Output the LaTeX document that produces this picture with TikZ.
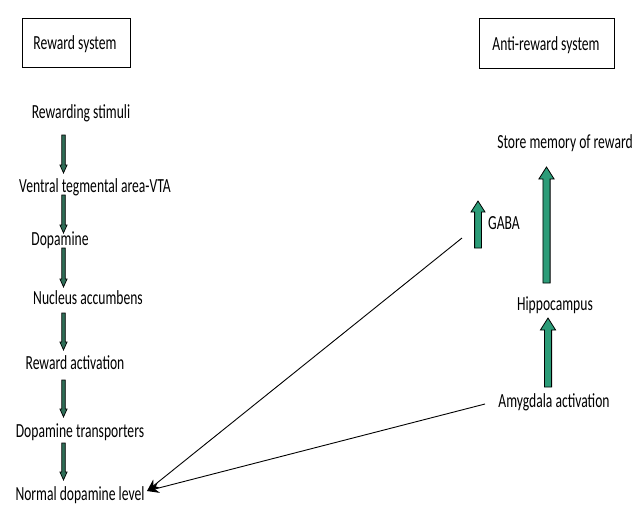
\documentclass[tikz,border=0pt]{standalone}
\usepackage{fontspec}
\setmainfont{Carlito}[FakeStretch=0.68]
\usetikzlibrary{arrows.meta}
\definecolor{dgreen}{HTML}{2F6E57}
\definecolor{tgreen}{HTML}{2C9C78}
\tikzset{
  lbl/.style={font=\fontsize{20}{24}\selectfont, inner sep=0pt, anchor=center},
  thinblk/.style={fill=dgreen, draw=black, line width=0.7pt},
  wideblk/.style={fill=tgreen, draw=black, line width=0.8pt},
  conn/.style={line width=0.9pt, -{Stealth[length=12pt,width=10pt]}}
}
% down arrow: x, ytop, ybot (thin, left column)
\newcommand\dnblk[3]{%
  \filldraw[thinblk] (#1-1.75,#2) -- (#1+1.75,#2) -- (#1+1.75,#3-8) -- (#1+3.6,#3-8)
    -- (#1,#3) -- (#1-3.6,#3-8) -- (#1-1.75,#3-8) -- cycle;}
% up arrow: x, ytop, ybot, shaft half width, head half width, head length
\newcommand\upblk[6]{%
  \filldraw[wideblk] (#1-#4,#3) -- (#1+#4,#3) -- (#1+#4,#2+#6) -- (#1+#5,#2+#6)
    -- (#1,#2) -- (#1-#5,#2+#6) -- (#1-#4,#2+#6) -- cycle;}
\begin{document}
\begin{tikzpicture}[x=1pt,y=-1pt]
\useasboundingbox (0,0) rectangle (638,504);
% title boxes
\draw[line width=0.9pt] (22,18) rectangle (130,67);
\node[lbl] (rs) at (75,44) {Reward system};
\draw[line width=0.9pt] (479,18) rectangle (614,68);
\node[lbl] (ars) at (546,45) {Anti-reward system};
% left column
\node[lbl] (stim) at (81,113) {Rewarding stimuli};
\node[lbl] (vta) at (95,187) {Ventral tegmental area-VTA};
\node[lbl] (dop) at (60,240) {Dopamine};
\node[lbl] (nac) at (88,298) {Nucleus accumbens};
\node[lbl] (ract) at (75,363) {Reward activation};
\node[lbl] (dat) at (80,432) {Dopamine transporters};
\node[lbl] (ndl) at (80,495) {Normal dopamine level};
\dnblk{63.5}{135}{173}
\dnblk{63.5}{195}{233}
\dnblk{63.5}{248}{287}
\dnblk{63.5}{313}{350}
\dnblk{63.5}{380}{417}
\dnblk{63.5}{443}{480}
% right column
\node[lbl] (mem) at (565,143) {Store memory of reward};
\node[lbl] (gaba) at (504,223) {GABA};
\node[lbl] (hip) at (555,305) {Hippocampus};
\node[lbl] (amy) at (554,402) {Amygdala activation};
\upblk{546.5}{167}{283}{3.6}{7.6}{12}
\upblk{548}{318}{387}{3.6}{7.6}{12}
\upblk{478}{201}{248}{3.4}{7}{11}
% connectors
\coordinate (gabaend) at (462,238);
\coordinate (amyend) at (485,404);
\coordinate (tip) at (147,491);
\draw[conn] (gabaend) -- (tip);
\draw[conn] (amyend) -- (tip);
\end{tikzpicture}
\end{document}
